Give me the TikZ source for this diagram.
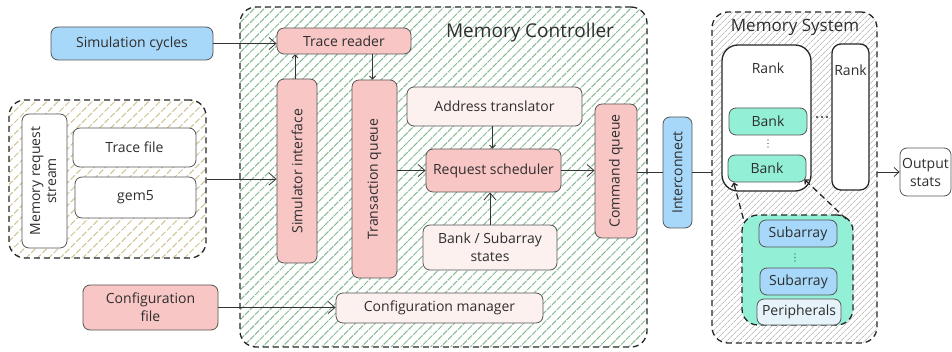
\documentclass[tikz,border=0pt]{standalone}
\usepackage{fontspec}
\setmainfont{Open Sans}
\usepackage{graphicx}
\usetikzlibrary{arrows.meta,patterns.meta}
\definecolor{bordc}{HTML}{555555}
\definecolor{txt}{HTML}{2E2E2E}
\definecolor{pinkf}{HTML}{F9C6C6}
\definecolor{lpinkf}{HTML}{FDF1F0}
\definecolor{bluef}{HTML}{A7D8F9}
\definecolor{greenf}{HTML}{93F0D6}
\definecolor{periphf}{HTML}{E6F3FA}
\definecolor{mcg}{HTML}{88BA92}
\definecolor{mrsg}{HTML}{CFC394}
\definecolor{msg}{HTML}{A39C9C}
\begin{document}
\begin{tikzpicture}[x=1pt,y=-1pt,
  box/.style={draw=bordc, rounded corners=7pt, line width=0.8pt, inner sep=0pt, text=txt, align=center, font=\fontsize{14}{18}\selectfont},
  pinkbox/.style={box, fill=pinkf},
  lpinkbox/.style={box, fill=lpinkf},
  bluebox/.style={box, fill=bluef},
  greenbox/.style={box, fill=greenf},
  whitebox/.style={box, fill=white},
  cont/.style={draw=black!85, line width=1.3pt, dash pattern=on 6pt off 4pt, rounded corners=16pt, inner sep=0pt},
  title/.style={text=txt, font=\fontsize{19}{22}\selectfont, inner sep=0pt},
  lbl/.style={text=txt, font=\fontsize{14}{18}\selectfont, inner sep=0pt},
  dot/.style={circle, fill=txt, inner sep=0pt, minimum size=2.2pt},
  arrbig/.style={draw=black!80, line width=0.8pt, -{Straight Barb[length=7pt,width=12pt]}},
  arrmid/.style={draw=black!80, line width=0.8pt, -{Straight Barb[length=5pt,width=9pt]}},
  arrsmall/.style={draw=black!80, line width=0.8pt, -{Straight Barb[length=3pt,width=6pt]}},
  plain/.style={draw=black!80, line width=0.8pt},
  zoomline/.style={draw=black!85, line width=1.3pt, dash pattern=on 6pt off 4pt}
]
\useasboundingbox (0,0) rectangle (952,352);

% containers
\node[cont, minimum width=197pt, minimum height=158pt, pattern={Lines[angle=45,distance=8pt,line width=1pt]}, pattern color=mrsg] (mrs) at (107.5,179) {};
\node[cont, minimum width=407pt, minimum height=340pt, pattern={Lines[angle=45,distance=7pt,line width=1pt]}, pattern color=mcg] (mc) at (443.5,177) {};
\node[cont, minimum width=165pt, minimum height=331pt, pattern={Lines[angle=45,distance=4pt,line width=0.6pt]}, pattern color=msg] (ms) at (794.5,177.5) {};

\node[title] (mctitle) at (530,33) {Memory Controller};
\node[title, font=\fontsize{17}{20}\selectfont] (mstitle) at (795,27) {Memory System};

% left side
\node[bluebox, minimum width=162pt, minimum height=33pt] (simcyc) at (132,43.5) {Simulation cycles};
\node[whitebox, minimum width=45pt, minimum height=134pt] (mrsin) at (44.5,181) {\rotatebox{90}{\begin{tabular}{@{}c@{}}Memory request\\[-2pt] stream\end{tabular}}};
\node[whitebox, minimum width=123pt, minimum height=39pt] (tracefile) at (134.5,147.5) {Trace file};
\node[whitebox, minimum width=121pt, minimum height=41pt] (gem) at (135.5,197.5) {gem5};
\node[pinkbox, minimum width=135pt, minimum height=45pt] (cfgfile) at (150.5,307.5) {Configuration\\file};

% memory controller
\node[pinkbox, minimum width=134pt, minimum height=26pt] (tracer) at (344,41) {Trace reader};
\node[pinkbox, minimum width=40pt, minimum height=184pt] (simif) at (297,171) {\rotatebox{90}{Simulator interface}};
\node[pinkbox, minimum width=45pt, minimum height=198pt] (transq) at (374.5,179) {\rotatebox{90}{Transaction queue}};
\node[lpinkbox, minimum width=175pt, minimum height=39pt] (addrtr) at (494.5,106.5) {Address translator};
\node[pinkbox, minimum width=135pt, minimum height=43pt] (reqsch) at (493.5,170.5) {Request scheduler};
\node[lpinkbox, minimum width=134pt, minimum height=45pt] (bankst) at (490,247.5) {Bank / Subarray\\states};
\node[pinkbox, minimum width=42pt, minimum height=134pt] (cmdq) at (616,171) {\rotatebox{90}{Command queue}};
\node[lpinkbox, minimum width=207pt, minimum height=30pt] (cfgmgr) at (439.5,308) {Configuration manager};

% interconnect
\node[bluebox, minimum width=29pt, minimum height=111pt] (inter) at (677.5,172.5) {\rotatebox{90}{Interconnect}};

% memory system
\node[whitebox, line width=1.3pt, draw=black!85, rounded corners=16pt, minimum width=89pt, minimum height=146pt] (rank1) at (766.5,118) {};
\node[lbl] (rank1t) at (768,68) {Rank};
\node[whitebox, line width=1.3pt, draw=black!85, rounded corners=9pt, minimum width=37pt, minimum height=146pt] (rank2) at (850.5,117) {};
\node[lbl] (rank2t) at (850.5,70) {Rank};
\node[dot] (h1) at (817,117) {};
\node[dot] (h2) at (822,117) {};
\node[dot] (h3) at (827,117) {};
\node[greenbox, minimum width=78pt, minimum height=27pt] (bank1) at (768,121.5) {Bank};
\node[dot, minimum size=1.4pt] (bv1) at (768,140) {};
\node[dot, minimum size=1.4pt] (bv2) at (768,143.5) {};
\node[dot, minimum size=1.4pt] (bv3) at (768,147) {};
\node[greenbox, minimum width=78pt, minimum height=27pt] (bank2) at (767,168.5) {Bank};

\node[cont, fill=greenf, minimum width=111pt, minimum height=110pt] (zoom) at (797.5,270) {};
\node[bluebox, minimum width=78pt, minimum height=27pt] (sub1) at (798,233.5) {Subarray};
\node[dot, minimum size=1.4pt] (sv1) at (795,254) {};
\node[dot, minimum size=1.4pt] (sv2) at (795,257.5) {};
\node[dot, minimum size=1.4pt] (sv3) at (795,261) {};
\node[bluebox, minimum width=77pt, minimum height=27pt] (sub2) at (798.5,281.5) {Subarray};
\node[box, fill=periphf, minimum width=84pt, minimum height=26pt] (periph) at (799,312) {Peripherals};

\node[whitebox, minimum width=51pt, minimum height=48pt] (out) at (925.5,172) {Output\\stats};

% connectors
\draw[arrbig] (simcyc.east) -- (simcyc.east -| tracer.west);
\draw[arrbig] (mrs.east) -- (mrs.east -| simif.west);
\draw[arrbig] (cfgfile.east) -- (cfgfile.east -| cfgmgr.west);
\draw[arrsmall] ([xshift=-2pt]simif.north) -- ([xshift=-2pt]simif.north |- tracer.south);
\draw[arrsmall] ([xshift=-2pt]transq.north |- tracer.south) -- ([xshift=-2pt]transq.north);
\draw[arrbig] (transq.east |- reqsch.west) -- (reqsch.west);
\draw[arrsmall] ([xshift=-2pt]addrtr.south) -- ([xshift=-2pt]addrtr.south |- reqsch.north);
\draw[arrbig] (bankst.north) -- (bankst.north |- reqsch.south);
\draw[arrbig] (reqsch.east) -- (reqsch.east -| cmdq.west);
\draw[plain] (cmdq.east |- inter.west) -- (inter.west);
\draw[plain] (inter.east) -- (inter.east -| ms.west);
\draw[arrmid] (ms.east |- out.west) -- (out.west);
\draw[zoomline, {Straight Barb[length=3pt,width=6pt]}-] ([xshift=6pt]bank2.south west) -- ([xshift=3pt,yshift=-8pt]zoom.north west);
\draw[zoomline, {Straight Barb[length=3pt,width=6pt]}-] ([xshift=-2pt,yshift=3pt]bank2.south east) -- ([xshift=-6pt,yshift=-6pt]zoom.north east);
\end{tikzpicture}
\end{document}
